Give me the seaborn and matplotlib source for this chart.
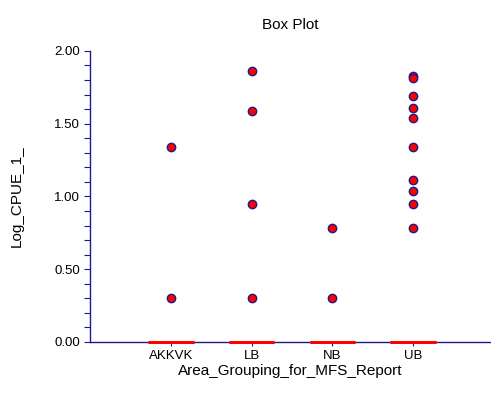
import pandas as pd
import numpy as np
import matplotlib
matplotlib.use("Agg")
import matplotlib.pyplot as plt
import seaborn as sns
from matplotlib.ticker import MultipleLocator

# ------------------- DATOS -------------------
areas = ["AKKVK", "LB", "NB", "UB"]
# valores no nulos (log10 CPUE)
nonzero = {
    "AKKVK": [1.34, 0.30],
    "LB": [1.86, 1.59, 0.95, 0.30],
    "NB": [0.78, 0.30],
    "UB": [1.83, 1.81, 1.69, 1.61, 1.54, 1.34, 1.11, 1.04, 0.95, 0.78],
}
# número estimado de ceros por área (caja colapsada en 0)
zero_counts = {"AKKVK": 20, "LB": 25, "NB": 15, "UB": 45}

rows = []
for a in areas:
    for v in nonzero[a]:
        rows.append((a, v))
    rows += [(a, 0.0)] * zero_counts[a]
df = pd.DataFrame(rows, columns=["Area_Grouping_for_MFS_Report", "Log_CPUE_1_"])

# ------------------- PLOT -------------------
sns.set_style("white", {"text.color": "black", "axes.labelcolor": "black",
                        "xtick.color": "black", "ytick.color": "black"})
plt.rcParams["font.family"] = ["Liberation Sans", "DejaVu Sans"]

navy = "#1a1a8c"
fig, ax = plt.subplots(figsize=(4.91, 3.94), dpi=100)
fig.subplots_adjust(left=0.183, right=0.998, top=0.871, bottom=0.132)

sns.boxplot(
    data=df, x="Area_Grouping_for_MFS_Report", y="Log_CPUE_1_", order=areas,
    width=0.54, fill=False, color="red", linewidth=2,
    whis=1.5, showcaps=False,
    medianprops=dict(color="red"),
    flierprops=dict(marker="o", markerfacecolor="red", markeredgecolor=navy,
                    markersize=6, markeredgewidth=1.0),
    ax=ax,
)
for ln in ax.lines:
    ln.set_clip_on(False)
    ln.set_zorder(4)
for p in ax.patches:
    p.set_clip_on(False)
    p.set_zorder(4)

ax.set_xlim(-1, 3.95)
ax.set_ylim(0, 2)
ax.yaxis.set_major_locator(MultipleLocator(0.5))
ax.yaxis.set_minor_locator(MultipleLocator(0.1))
ax.yaxis.set_major_formatter(matplotlib.ticker.FormatStrFormatter("%.2f"))

for s in ["top", "right"]:
    ax.spines[s].set_visible(False)
for s in ["left", "bottom"]:
    ax.spines[s].set_color(navy)
    ax.spines[s].set_linewidth(1.0)

ax.tick_params(axis="y", which="both", left=True, direction="out", color=navy,
               labelcolor="black", labelsize=9.5, length=4, width=0.8, pad=3)
ax.tick_params(axis="x", which="both", bottom=True, direction="out", color=navy,
               labelcolor="black", labelsize=9.5, length=3, width=0.8, pad=3)

ax.set_title("Box Plot", fontsize=11, pad=16, color="black")
ax.set_xlabel("Area_Grouping_for_MFS_Report", fontsize=11, labelpad=1, color="black")
ax.set_ylabel("Log_CPUE_1_", fontsize=11, labelpad=22, color="black")

plt.savefig("out.png", dpi=100)
